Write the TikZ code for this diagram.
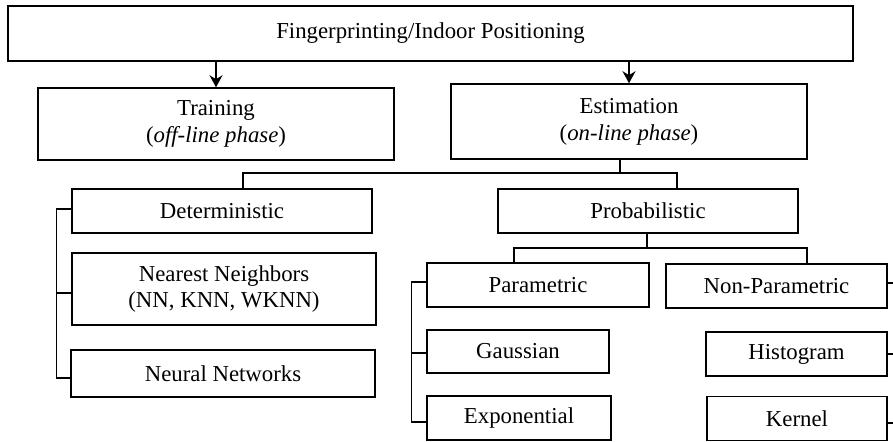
\documentclass[tikz,border=0pt]{standalone}
\usepackage{fontspec}
\setmainfont{Liberation Serif}
\usetikzlibrary{arrows.meta}

\begin{document}
\begin{tikzpicture}[x=0.5pt, y=-0.5pt,
    blk/.style={draw, line width=0.75pt, inner sep=0pt, align=center,
        font=\fontsize{11.4pt}{13.4pt}\selectfont},
    conn/.style={line width=0.75pt},
    arr/.style={line width=1.3pt, -{Stealth[length=6pt, width=6.5pt]}}]

\useasboundingbox (0, 0) rectangle (893, 441);

\node [blk, minimum width=422.5pt, minimum height=27.5pt] (fp) at (430.5, 33.5) {Fingerprinting/Indoor Positioning};
\node [blk, minimum width=178pt, minimum height=36pt] (train) at (216, 124) {Training\\(\textit{off-line phase})};
\node [blk, minimum width=178pt, minimum height=37.5pt] (estim) at (629, 121.5) {Estimation\\(\textit{on-line phase})};

\node [blk, minimum width=150pt, minimum height=22pt] (determ) at (222, 211) {Deterministic};
\node [blk, minimum width=152pt, minimum height=36pt] (nn) at (224, 289) {Nearest Neighbors\\(NN, KNN, WKNN)};
\node [blk, minimum width=152pt, minimum height=23.5pt] (neural) at (223, 373.5) {Neural Networks};

\node [blk, minimum width=150pt, minimum height=22pt] (prob) at (648, 211) {Probabilistic};
\node [blk, minimum width=111pt, minimum height=22pt] (param) at (538, 285) {Parametric};
\node [blk, minimum width=110.5pt, minimum height=22pt] (nonparam) at (776.5, 286) {Non-Parametric};
\node [blk, minimum width=91pt, minimum height=21.5pt] (gauss) at (518, 351.5) {Gaussian};
\node [blk, minimum width=92pt, minimum height=22pt] (expo) at (519, 418) {Exponential};
\node [blk, minimum width=90.5pt, minimum height=22pt] (histo) at (796.5, 354) {Histogram};
\node [blk, minimum width=90pt, minimum height=22pt] (kernel) at (797, 418.5) {Kernel};

\draw [arr] (fp.south -| train.north) -- (train.north);
\draw [arr] (fp.south -| estim.north) -- (estim.north);

\coordinate (ebus) at (620, 173);
\draw [conn] (ebus |- estim.south) -- (ebus);
\draw [conn] (ebus) -| ([shift={(21, 0)}]determ.north);
\draw [conn] (ebus) -| ([shift={(29, 0)}]prob.north);

\coordinate (pbus) at (647, 248);
\draw [conn] (pbus |- prob.south) -- (pbus);
\draw [conn] (pbus) -| ([shift={(-24, 0)}]param.north);
\draw [conn] (pbus) -| ([shift={(30.5, 0)}]nonparam.north);

\draw [conn] ([shift={(0, -2)}]determ.west) -- ++(-15, 0) |- ([shift={(0, 4.5)}]neural.west);
\draw [conn] ([shift={(0, 4)}]nn.west) -- ++(-15, 0);

\draw [conn] ([shift={(0, -3)}]param.west) -- ++(-15, 0) |- ([shift={(0, 4)}]expo.west);
\draw [conn] ([shift={(0, 1.5)}]gauss.west) -- ++(-15, 0);

\draw [conn] ([shift={(0, -3)}]nonparam.east) -- ++(10, 0);
\draw [conn] (histo.east) -- ++(10, 0);
\draw [conn] ([shift={(0, 4.5)}]kernel.east) -- ++(10, 0);
\end{tikzpicture}
\end{document}
